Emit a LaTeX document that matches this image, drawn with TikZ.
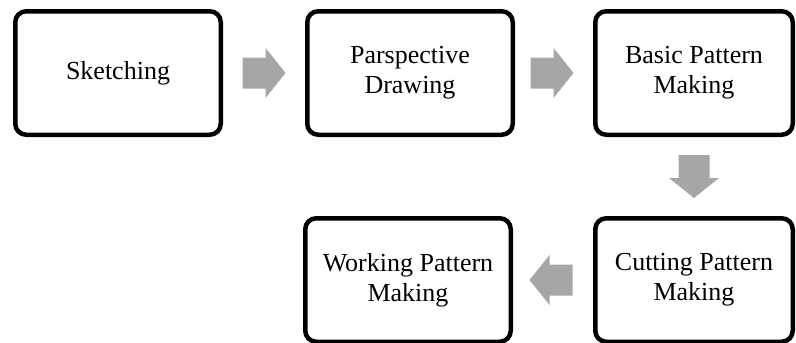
\documentclass[tikz,border=0pt]{standalone}
\usepackage{fontspec}
\setmainfont{Liberation Serif}
\usepackage{tikz}
\usetikzlibrary{calc}
\definecolor{arrowgray}{RGB}{166, 166, 166}

\begin{document}
\begin{tikzpicture}[x=1pt, y=1pt,
  stage/.style={draw=black, line width=4.5pt, rounded corners=11pt, align=center,
    minimum width=205.5pt, minimum height=123.5pt, inner sep=0pt,
    font=\fontsize{26}{30}\selectfont},
  blockarrow/.style={fill=arrowgray}]
  \useasboundingbox (0,0) rectangle (796,-343);
  % Top row
  \node[stage] (sk) at (118,-73) {Sketching};
  \node[stage] (pd) at (410,-73) {Parspective\\Drawing};
  \node[stage, minimum width=197.5pt] (bp) at (694,-73) {Basic Pattern\\Making};
  % Bottom row
  \node[stage, minimum width=197.5pt] (cp) at (694,-280) {Cutting Pattern\\Making};
  \node[stage] (wp) at (408,-280) {Working Pattern\\Making};
  % Block arrows
  \foreach \a/\b/\ang in {sk/pd/0, pd/bp/0, bp/cp/-90, cp/wp/180} {
    \fill[blockarrow, shift={($(\a)!0.5!(\b)$)}, rotate=\ang]
      (-21.5,-15.5) -- (1.5,-15.5) -- (1.5,-25) -- (21.5,0)
      -- (1.5,25) -- (1.5,15.5) -- (-21.5,15.5) -- cycle;
  }
\end{tikzpicture}
\end{document}
